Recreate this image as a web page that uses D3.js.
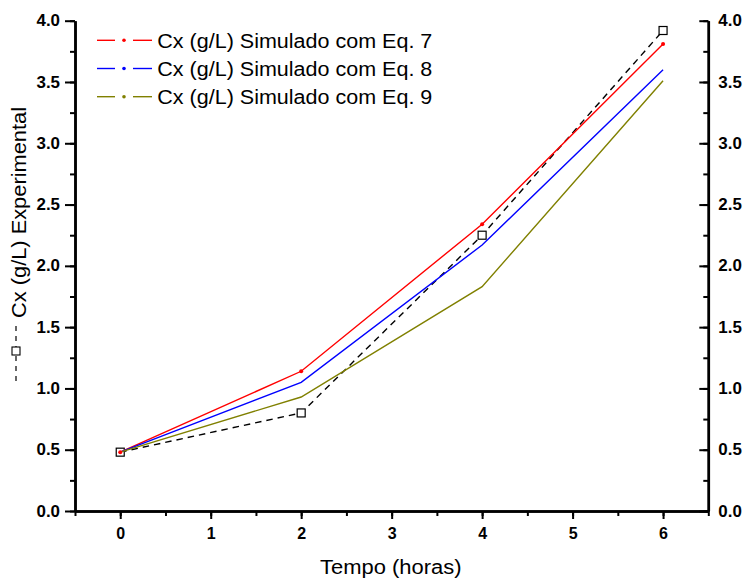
<!DOCTYPE html>
<html>
<head>
<meta charset="utf-8">
<script src="https://cdn.jsdelivr.net/npm/d3@7"></script>
<style>
  html, body { margin: 0; padding: 0; background: #fff; }
  svg { display: block; font-family: "Liberation Sans", Arial, sans-serif; }
</style>
</head>
<body>
<svg id="chart" width="747" height="579"></svg>
<script>
// ---- data ----
const tempo = [0, 2, 4, 6];
const experimental = [0.48, 0.80, 2.25, 3.92];
const eq7 = [0.48, 1.14, 2.34, 3.81];
const eq8 = [0.48, 1.05, 2.17, 3.60];
const eq9 = [0.48, 0.93, 1.83, 3.51];
const xTicks = [0, 1, 2, 3, 4, 5, 6];
const yTicks = [0.0, 0.5, 1.0, 1.5, 2.0, 2.5, 3.0, 3.5, 4.0];
const legendLabels = ["Cx (g/L) Simulado com Eq. 7", "Cx (g/L) Simulado com Eq. 8", "Cx (g/L) Simulado com Eq. 9"];
const xTitle = "Tempo (horas)";
const yTitle = "Cx (g/L) Experimental";

const colors = ["#ff0000", "#0000ff", "#808000"];
const simSeries = [eq7, eq8, eq9];

const svg = d3.select("#chart");
const x = d3.scaleLinear().domain([-0.5, 6.5]).range([75, 708.3]);
const y = d3.scaleLinear().domain([0, 4]).range([511, 20.7]);

const fmt = d3.format(".1f");

function styleAxis(g, w) {
  g.select(".domain").attr("stroke", "#000").attr("stroke-width", w);
  g.selectAll(".tick line").attr("stroke", "#000").attr("stroke-width", 2);
  g.selectAll(".tick text").attr("fill", "#000").attr("font-size", 16).attr("font-weight", "bold")
    .attr("font-family", "'Liberation Sans', Arial, sans-serif");
}

// minor ticks
const yMinor = d3.range(0, 4.0001, 0.25);
const xMinor = d3.range(-0.5, 6.5001, 0.5);

svg.append("g").attr("transform", `translate(${x.range()[0]},0)`)
  .call(d3.axisLeft(y).tickValues(yMinor).tickSize(5).tickSizeOuter(0).tickFormat(""))
  .call(g => styleAxis(g, 2.5));
svg.append("g").attr("transform", `translate(${x.range()[1]},0)`)
  .call(d3.axisRight(y).tickValues(yMinor).tickSize(-5).tickSizeOuter(0).tickFormat(""))
  .call(g => styleAxis(g, 2.5));
svg.append("g").attr("transform", `translate(0,${y.range()[0]})`)
  .call(d3.axisBottom(x).tickValues(xMinor).tickSize(5).tickSizeOuter(0).tickFormat(""))
  .call(g => styleAxis(g, 2.5));

// major ticks
svg.append("g").attr("transform", `translate(${x.range()[0]},0)`)
  .call(d3.axisLeft(y).tickValues(yTicks).tickSize(10).tickPadding(5).tickSizeOuter(0).tickFormat(fmt))
  .call(g => styleAxis(g, 2.5))
  .call(g => g.selectAll(".tick text").attr("textLength", 23.5).attr("lengthAdjust", "spacingAndGlyphs"));
svg.append("g").attr("transform", `translate(${x.range()[1]},0)`)
  .call(d3.axisRight(y).tickValues(yTicks).tickSize(-9).tickPadding(10).tickSizeOuter(0).tickFormat(fmt))
  .call(g => styleAxis(g, 2.5))
  .call(g => g.selectAll(".tick text").attr("textLength", 23.5).attr("lengthAdjust", "spacingAndGlyphs"));
svg.append("g").attr("transform", `translate(0,${y.range()[0]})`)
  .call(d3.axisBottom(x).tickValues(xTicks).tickSize(8).tickPadding(9).tickSizeOuter(0).tickFormat(d3.format("d")))
  .call(g => styleAxis(g, 2.5));

const line = d3.line().x((d, i) => x(tempo[i])).y(d => y(d));

// experimental: dashed black with open squares
svg.append("path").datum(experimental)
  .attr("d", line).attr("fill", "none").attr("stroke", "#000")
  .attr("stroke-width", 1.4).attr("stroke-dasharray", "6.5,5");
svg.selectAll(".sq").data(experimental).enter().append("rect")
  .attr("x", (d, i) => x(tempo[i]) - 4).attr("y", d => y(d) - 4)
  .attr("width", 8).attr("height", 8)
  .attr("fill", "#fff").attr("stroke", "#000").attr("stroke-width", 1.2);

// simulated series
simSeries.forEach((s, k) => {
  svg.append("path").datum(s).attr("d", line)
    .attr("fill", "none").attr("stroke", colors[k]).attr("stroke-width", 1.4);
});
svg.selectAll(".dot7").data(eq7).enter().append("circle")
  .attr("cx", (d, i) => x(tempo[i])).attr("cy", d => y(d)).attr("r", 2)
  .attr("fill", colors[0]);

// legend
const legend = svg.append("g");
legendLabels.forEach((lab, k) => {
  const cy = 40.3 + k * 28.2;
  legend.append("line").attr("x1", 97).attr("x2", 115).attr("y1", cy).attr("y2", cy)
    .attr("stroke", colors[k]).attr("stroke-width", 1.4);
  legend.append("line").attr("x1", 133).attr("x2", 152).attr("y1", cy).attr("y2", cy)
    .attr("stroke", colors[k]).attr("stroke-width", 1.4);
  legend.append("circle").attr("cx", 124).attr("cy", cy).attr("r", 1.8).attr("fill", colors[k]);
  legend.append("text").attr("x", 157.3).attr("y", cy + 7.2)
    .attr("font-size", 20).attr("fill", "#000")
    .attr("textLength", 275).attr("lengthAdjust", "spacingAndGlyphs")
    .text(lab);
});

// x title
svg.append("text").attr("x", 320).attr("y", 573.5)
  .attr("font-size", 20).attr("fill", "#000")
  .attr("textLength", 141.5).attr("lengthAdjust", "spacingAndGlyphs")
  .text(xTitle);

// y title with legend symbol
svg.append("text").attr("transform", "translate(26,318) rotate(-90)")
  .attr("font-size", 20).attr("fill", "#000")
  .attr("textLength", 211).attr("lengthAdjust", "spacingAndGlyphs")
  .text(yTitle);
svg.append("line").attr("x1", 16).attr("x2", 16).attr("y1", 381).attr("y2", 325)
  .attr("stroke", "#000").attr("stroke-width", 1.2).attr("stroke-dasharray", "5,5");
svg.append("rect").attr("x", 12).attr("y", 347).attr("width", 8).attr("height", 8)
  .attr("fill", "#fff").attr("stroke", "#000").attr("stroke-width", 1.1);
</script>
</body>
</html>
